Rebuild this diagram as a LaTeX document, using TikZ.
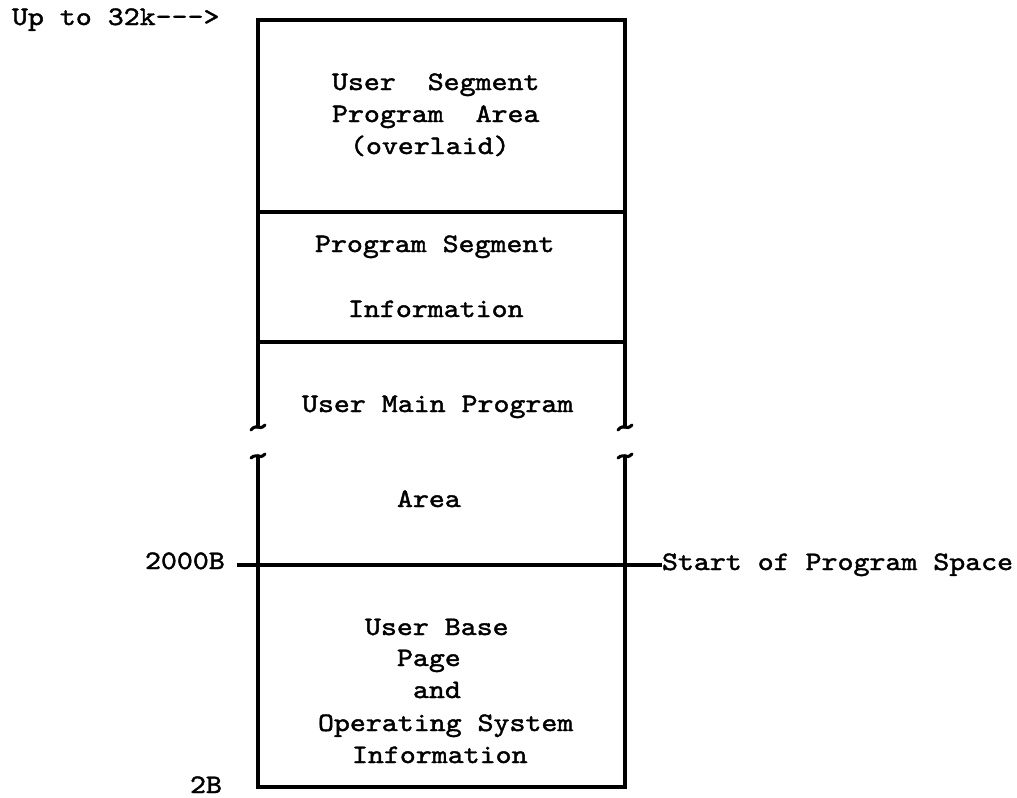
\documentclass[tikz,border=0pt]{standalone}
\usepackage{fontspec}
\newfontfamily\tw[FakeStretch=1.14,FakeBold=1.6]{lmmono10-regular.otf}
\begin{document}
\begin{tikzpicture}[x=0.75pt,y=-0.75pt,
  box/.style={line width=2.5pt,line cap=round,line join=miter},
  thick2/.style={line width=3pt},
  foot/.style={line width=2.3pt,line cap=round},
  lbl/.style={anchor=base west,inner sep=0pt,outer sep=0pt,font=\tw\fontsize{20}{22}\selectfont}]
\useasboundingbox (0,0) rectangle (1017,797);
% frame coordinates
\coordinate (TL) at (258,20);  \coordinate (TR) at (625,20);
\coordinate (A1) at (258,212); \coordinate (A2) at (625,212);
\coordinate (B1) at (258,342); \coordinate (B2) at (625,342);
\coordinate (C1) at (258,427); \coordinate (C2) at (625,427);
\coordinate (D1) at (258,456); \coordinate (D2) at (625,456);
\coordinate (BL) at (258,787); \coordinate (BR) at (625,787);
\coordinate (L0) at (237,565);
% texts
\node[lbl] (up) at (12,25) {Up to 32k--->};
\node[lbl] (us1) at (332,90) {User\ \ Segment};
\node[lbl] (us2) at (332,122) {Program\ \ Area};
\node[lbl] (us3) at (350,154) {(overlaid)};
\node[lbl] (ps1) at (315,252) {Program Segment};
\node[lbl] (ps2) at (348,317) {Information};
\node[lbl] (um1) at (302,412) {User Main Program};
\node[lbl] (um2) at (397,507) {Area};
\node[lbl] (adr1) at (145,569) {2000B};
\node[lbl] (start) at (662,570) {Start of Program Space};
\node[lbl] (ub1) at (365,635) {User Base};
\node[lbl] (ub2) at (397,666) {Page};
\node[lbl] (ub3) at (413,698) {and};
\node[lbl] (ub4) at (318,731) {Operating System};
\node[lbl] (ub5) at (352,763) {Information};
\node[lbl] (adr2) at (190,793) {2B};
% frame
\draw[box] (C1) -- (TL) -- (TR) -- (C2);
\draw[box] (A1) -- (A2);
\draw[box] (B1) -- (B2);
\draw[box] (D1) -- (BL) -- (BR) -- (D2);
\draw[thick2] (L0) -- (start.west |- L0);
% break marks
\foreach \p in {C1,C2}{
  \draw[foot] ([shift={(-7,3)}]\p) .. controls ([shift={(-4,-1)}]\p) and ([shift={(-1,0)}]\p) .. (\p)
     .. controls ([shift={(2,1)}]\p) and ([shift={(4,1)}]\p) .. ([shift={(7,-2)}]\p);
}
\foreach \p in {D1,D2}{
  \draw[foot] ([shift={(-7,2)}]\p) .. controls ([shift={(-4,-1)}]\p) and ([shift={(-1,0)}]\p) .. (\p)
     .. controls ([shift={(2,1)}]\p) and ([shift={(4,1)}]\p) .. ([shift={(7,-2)}]\p);
}
\end{tikzpicture}
\end{document}
